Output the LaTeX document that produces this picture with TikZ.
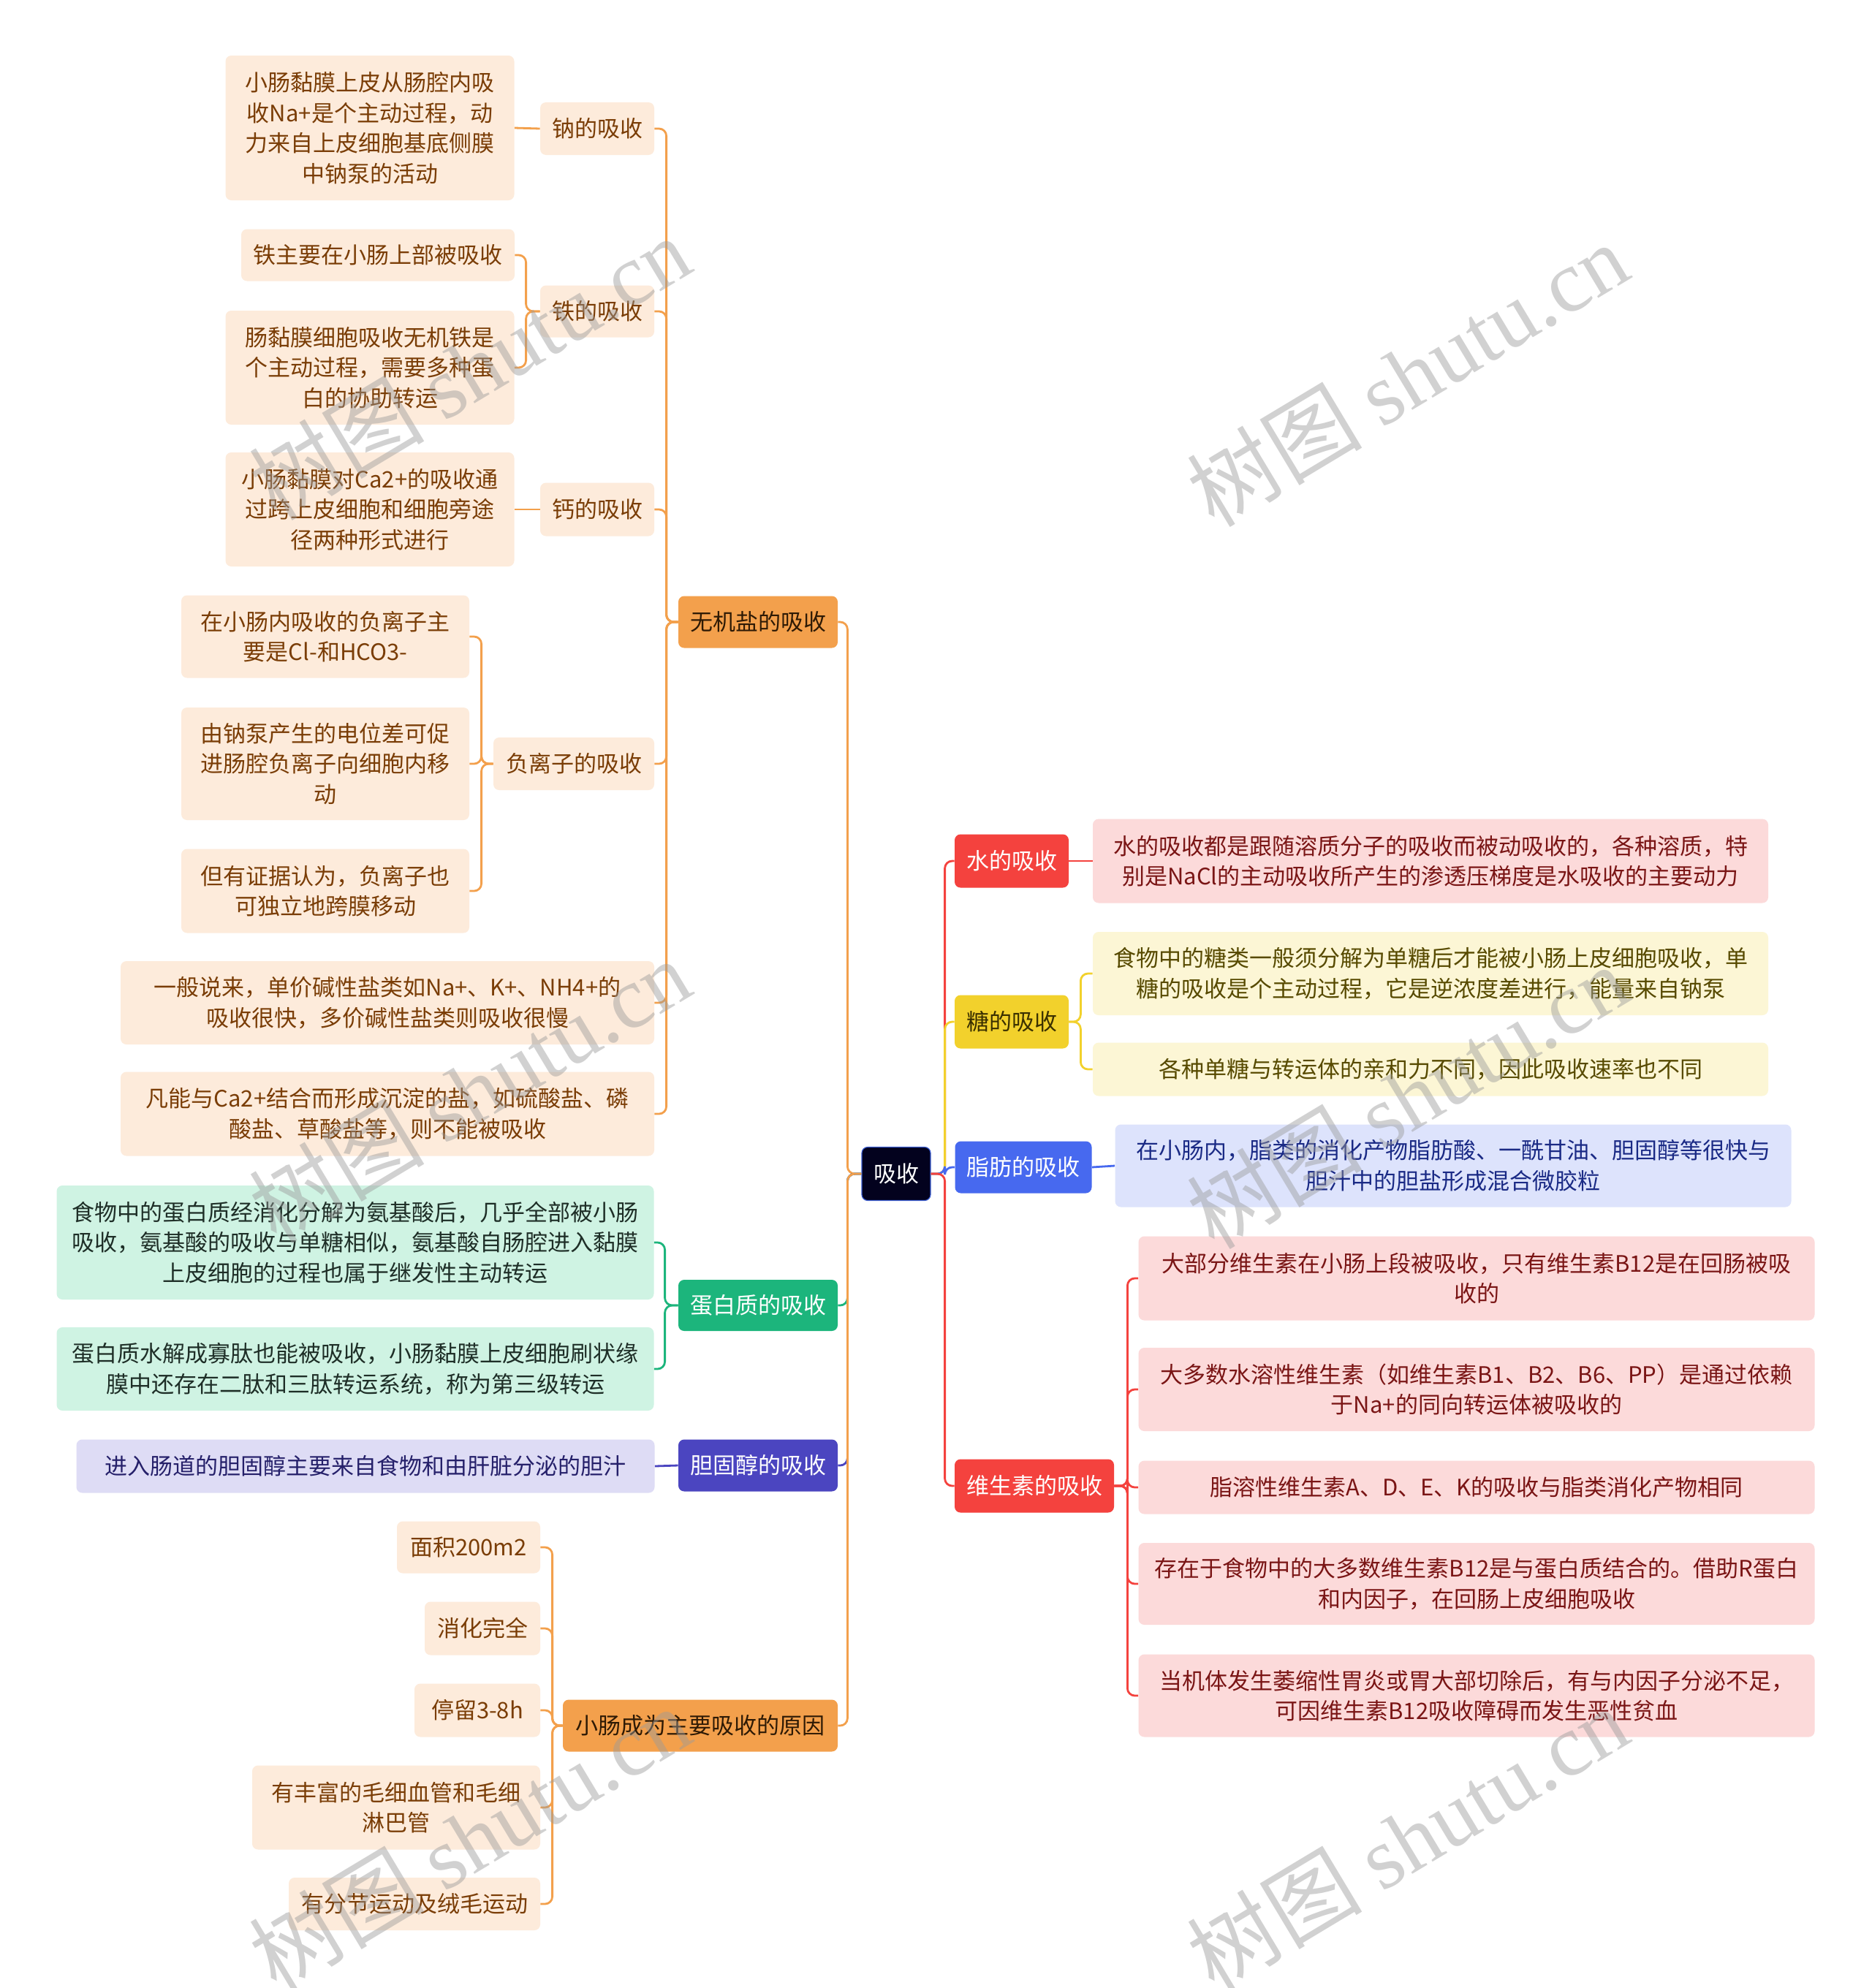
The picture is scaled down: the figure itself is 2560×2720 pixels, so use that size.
\documentclass[tikz,border=0pt]{standalone}
\usepackage{fontspec}
\setmainfont{Noto Sans CJK SC}
\newfontfamily\wmlatin{Liberation Serif}
\definecolor{cOr}{HTML}{F3A04C}
\definecolor{cOrL}{HTML}{FDEBDB}
\definecolor{cOrT}{HTML}{7A3D06}
\definecolor{cOrD}{HTML}{2E1A05}
\definecolor{cGr}{HTML}{1CB57C}
\definecolor{cGrL}{HTML}{CFF3E3}
\definecolor{cGrT}{HTML}{1E2E27}
\definecolor{cPu}{HTML}{4B45C0}
\definecolor{cPuL}{HTML}{DEDCF5}
\definecolor{cPuT}{HTML}{25206A}
\definecolor{cRe}{HTML}{F4423E}
\definecolor{cReL}{HTML}{FCDADA}
\definecolor{cReT}{HTML}{7A1515}
\definecolor{cYe}{HTML}{F2D12C}
\definecolor{cYeL}{HTML}{FCF6D5}
\definecolor{cYeT}{HTML}{574A00}
\definecolor{cYeD}{HTML}{3A3000}
\definecolor{cBl}{HTML}{4769EF}
\definecolor{cBlL}{HTML}{DDE3FC}
\definecolor{cBlT}{HTML}{1A2A85}
\definecolor{cRoot}{HTML}{03021E}
\definecolor{cRootB}{HTML}{3A5BD0}
\definecolor{cWm}{HTML}{9A9A9A}
\tikzset{
  box/.style={rounded corners=4pt, align=center, inner sep=0pt,
    font=\fontsize{15.5pt}{20.8pt}\selectfont},
  sz/.style 2 args={minimum width=#1*0.5pt, minimum height=#2*0.5pt},
  lo/.style={box, fill=cOrL, text=cOrT},
  lg/.style={box, fill=cGrL, text=cGrT},
  lp/.style={box, fill=cPuL, text=cPuT},
  lr/.style={box, fill=cReL, text=cReT},
  ly/.style={box, fill=cYeL, text=cYeT},
  lb/.style={box, fill=cBlL, text=cBlT},
  conn/.style={line width=1.4pt, rounded corners=5pt},
  wm/.style={text=cWm, text opacity=0.45, font=\fontsize{60pt}{60pt}\selectfont, rotate=31, inner sep=0pt}
}
\begin{document}
\begin{tikzpicture}[x=0.5pt, y=-0.5pt]
\useasboundingbox (0,0) rectangle (2560,2720);
\fill[white] (0,0) rectangle (2560,2720);

% root
\node[box, fill=cRoot, draw=cRootB, line width=0.6pt, text=white, sz={94}{73}] (root) at (1226,1606) {吸收};

% left level 1
\node[box, fill=cOr, text=cOrD, sz={218}{71}] (wj) at (1037,851) {无机盐的吸收};
\node[box, fill=cGr, text=white, sz={218}{70}] (db) at (1037,1786) {蛋白质的吸收};
\node[box, fill=cPu, text=white, sz={218}{71}] (dg) at (1037,2005) {胆固醇的吸收};
\node[box, fill=cOr, text=cOrD, sz={376}{71}] (xc) at (958,2361) {小肠成为主要吸收的原因};

% right level 1
\node[box, fill=cRe, text=white, sz={156}{73}] (sh) at (1384,1178) {水的吸收};
\node[box, fill=cYe, text=cYeD, sz={156}{73}] (tg) at (1384,1398) {糖的吸收};
\node[box, fill=cBl, text=white, sz={187}{71}] (zf) at (1400,1597) {脂肪的吸收};
\node[box, fill=cRe, text=white, sz={218}{73}] (ws) at (1415,2033) {维生素的吸收};

% inorganic salts level 2
\node[lo, sz={156}{72}] (na) at (817,176) {钠的吸收};
\node[lo, sz={156}{71}] (tie) at (817,426) {铁的吸收};
\node[lo, sz={156}{73}] (gai) at (817,697) {钙的吸收};
\node[lo, sz={220}{72}] (fu) at (785,1045) {负离子的吸收};
\node[lo, sz={730}{114}] (yb) at (530,1372) {一般说来，单价碱性盐类如Na+、K+、NH4+的\\吸收很快，多价碱性盐类则吸收很慢};
\node[lo, sz={730}{115}] (fn) at (530,1524) {凡能与Ca2+结合而形成沉淀的盐，如硫酸盐、磷\\酸盐、草酸盐等，则不能被吸收};

% level 3
\node[lo, sz={395}{198}] (na1) at (506,175) {小肠黏膜上皮从肠腔内吸\\收Na+是个主动过程，动\\力来自上皮细胞基底侧膜\\中钠泵的活动};
\node[lo, sz={374}{71}] (tie1) at (517,349) {铁主要在小肠上部被吸收};
\node[lo, sz={395}{156}] (tie2) at (506,503) {肠黏膜细胞吸收无机铁是\\个主动过程，需要多种蛋\\白的协助转运};
\node[lo, sz={395}{156}] (gai1) at (506,697) {小肠黏膜对Ca2+的吸收通\\过跨上皮细胞和细胞旁途\\径两种形式进行};
\node[lo, sz={394}{113}] (fu1) at (445,871) {在小肠内吸收的负离子主\\要是Cl-和HCO3-};
\node[lo, sz={394}{154}] (fu2) at (445,1045) {由钠泵产生的电位差可促\\进肠腔负离子向细胞内移\\动};
\node[lo, sz={394}{115}] (fu3) at (445,1219) {但有证据认为，负离子也\\可独立地跨膜移动};

% protein
\node[lg, sz={817}{156}] (db1) at (486,1700) {食物中的蛋白质经消化分解为氨基酸后，几乎全部被小肠\\吸收，氨基酸的吸收与单糖相似，氨基酸自肠腔进入黏膜\\上皮细胞的过程也属于继发性主动转运};
\node[lg, sz={817}{114}] (db2) at (486,1873) {蛋白质水解成寡肽也能被吸收，小肠黏膜上皮细胞刷状缘\\膜中还存在二肽和三肽转运系统，称为第三级转运};

% cholesterol
\node[lp, sz={791}{73}] (dg1) at (500,2006) {进入肠道的胆固醇主要来自食物和由肝脏分泌的胆汁};

% reasons
\node[lo, sz={196}{71}] (xc1) at (641,2117) {面积200m2};
\node[lo, sz={158}{73}] (xc2) at (660,2228) {消化完全};
\node[lo, sz={172}{73}] (xc3) at (653,2340) {停留3-8h};
\node[lo, sz={394}{115}] (xc4) at (542,2473) {有丰富的毛细血管和毛细\\淋巴管};
\node[lo, sz={344}{72}] (xc5) at (567,2605) {有分节运动及绒毛运动};

% right children
\node[lr, sz={924}{115}] (sh1) at (1957,1178) {水的吸收都是跟随溶质分子的吸收而被动吸收的，各种溶质，特\\别是NaCl的主动吸收所产生的渗透压梯度是水吸收的主要动力};
\node[ly, sz={924}{114}] (tg1) at (1957,1332) {食物中的糖类一般须分解为单糖后才能被小肠上皮细胞吸收，单\\糖的吸收是个主动过程，它是逆浓度差进行，能量来自钠泵};
\node[ly, sz={924}{73}] (tg2) at (1957,1463) {各种单糖与转运体的亲和力不同，因此吸收速率也不同};
\node[lb, sz={925}{113}] (zf1) at (1988,1595) {在小肠内，脂类的消化产物脂肪酸、一酰甘油、胆固醇等很快与\\胆汁中的胆盐形成混合微胶粒};
\node[lr, sz={925}{115}] (ws1) at (2020,1749) {大部分维生素在小肠上段被吸收，只有维生素B12是在回肠被吸\\收的};
\node[lr, sz={925}{114}] (ws2) at (2020,1901) {大多数水溶性维生素（如维生素B1、B2、B6、PP）是通过依赖\\于Na+的同向转运体被吸收的};
\node[lr, sz={925}{73}] (ws3) at (2020,2035) {脂溶性维生素A、D、E、K的吸收与脂类消化产物相同};
\node[lr, sz={925}{112}] (ws4) at (2020,2167) {存在于食物中的大多数维生素B12是与蛋白质结合的。借助R蛋白\\和内因子，在回肠上皮细胞吸收};
\node[lr, sz={925}{113}] (ws5) at (2020,2320) {当机体发生萎缩性胃炎或胃大部切除后，有与内因子分泌不足，\\可因维生素B12吸收障碍而发生恶性贫血};

% connectors root -> level 1 (left)
\draw[conn, cOr] (root.west) -- ++(-19,0) |- (wj.east);
\draw[conn, cGr] (root.west) -- ++(-19,0) |- (db.east);
\draw[conn, cPu] (root.west) -- ++(-19,0) |- (dg.east);
\draw[conn, cOr] (root.west) -- ++(-19,0) |- (xc.east);
% connectors root -> level 1 (right)
\draw[conn, cRe] (root.east) -- ++(19,0) |- (sh.west);
\draw[conn, cYe] (root.east) -- ++(19,0) |- (tg.west);
\draw[conn, cBl] (root.east) -- ++(19,0) |- (zf.west);
\draw[conn, cRe] (root.east) -- ++(19,0) |- (ws.west);

% inorganic salts
\foreach \c in {na,tie,gai,fu,yb,fn}
  \draw[conn, cOr] (wj.west) -- ++(-16,0) |- (\c.east);
\draw[conn, cOr] (na.west) -- (na1.east);
\draw[conn, cOr] (tie.west) -- ++(-19,0) |- (tie1.east);
\draw[conn, cOr] (tie.west) -- ++(-19,0) |- (tie2.east);
\draw[conn, cOr] (gai.west) -- (gai1.east);
\foreach \c in {fu1,fu2,fu3}
  \draw[conn, cOr] (fu.west) -- ++(-16,0) |- (\c.east);

% protein
\draw[conn, cGr] (db.west) -- ++(-18,0) |- (db1.east);
\draw[conn, cGr] (db.west) -- ++(-18,0) |- (db2.east);
% cholesterol
\draw[conn, cPu] (dg.west) -- (dg1.east);
% reasons
\foreach \c in {xc1,xc2,xc3,xc4,xc5}
  \draw[conn, cOr] (xc.west) -- ++(-14,0) |- (\c.east);

% right side
\draw[conn, cRe] (sh.east) -- (sh1.west);
\draw[conn, cYe] (tg.east) -- ++(16,0) |- (tg1.west);
\draw[conn, cYe] (tg.east) -- ++(16,0) |- (tg2.west);
\draw[conn, cBl] (zf.east) -- (zf1.west);
\foreach \c in {ws1,ws2,ws3,ws4,ws5}
  \draw[conn, cRe] (ws.east) -- ++(18,0) |- (\c.west);

% watermarks
\node[wm] (wm1) at (642,503) {树图 {\wmlatin shutu.cn}};
\node[wm] (wm2) at (1925,512) {树图 {\wmlatin shutu.cn}};
\node[wm] (wm3) at (642,1492) {树图 {\wmlatin shutu.cn}};
\node[wm] (wm4) at (1925,1500) {树图 {\wmlatin shutu.cn}};
\node[wm] (wm5) at (642,2515) {树图 {\wmlatin shutu.cn}};
\node[wm] (wm6) at (1925,2515) {树图 {\wmlatin shutu.cn}};
\end{tikzpicture}
\end{document}
